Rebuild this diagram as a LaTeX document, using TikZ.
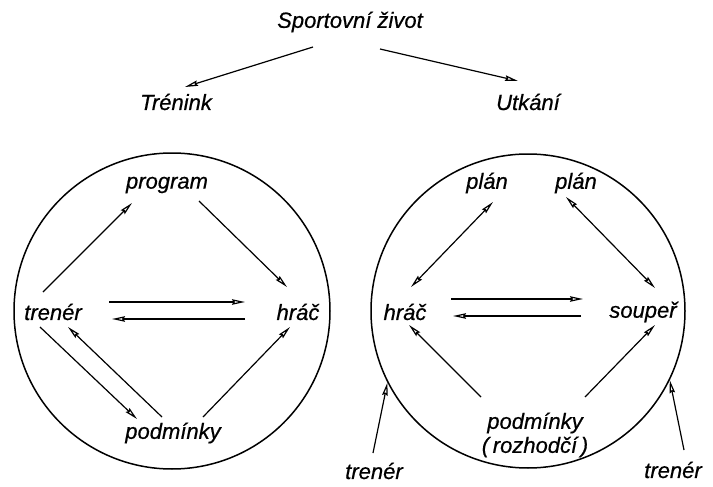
\documentclass[tikz,border=0pt]{standalone}
\usepackage{fontspec}
\setmainfont{Liberation Sans}[ItalicFeatures={FakeBold=0.6}]
\usetikzlibrary{arrows.meta,calc}
\begin{document}
\begin{tikzpicture}[x=1pt,y=-1pt,
  lbl/.style={inner sep=1pt,font=\fontsize{22}{26}\selectfont\itshape},
  ring/.style={circle,draw,line width=1.5pt,minimum size=#1,inner sep=0pt},
  tip/.tip={Stealth[open,length=13pt,width=5.5pt,inset=1.5pt]},
  arr/.style={line width=1.2pt,-tip},
  darr/.style={line width=1.2pt,tip-tip}]
\useasboundingbox (0,0) rectangle (713,487);
% top
\node[lbl] (sz) at (350,22) {Sportovní život};
\node[lbl] (tr) at (176,102) {Trénink};
\node[lbl] (ut) at (528,102) {Utkání};
\draw[arr] ([shift={(-37,25)}]sz.center) -- ([shift={(9,-15)}]tr.center);
\draw[arr] ([shift={(30,27)}]sz.center) -- ([shift={(-10,-21)}]ut.center);
% circles
\node[ring=316pt] (cL) at (172,311) {};
\node[ring=314pt] (cR) at (528,311) {};
% left circle
\node[lbl] (tL) at (53,312) {trenér};
\node[lbl] (pL) at (167,185) {program};
\node[lbl] (hL) at (298,312) {hráč};
\node[lbl] (dL) at (173,433) {podmínky};
\draw[arr] ([shift={(-10,-20)}]tL.center) -- ([shift={(-35,18)}]pL.center);
\draw[arr] ([shift={(32,16)}]pL.center) -- ([shift={(-11,-25)}]hL.center);
\draw[arr] ([shift={(56,-10)}]tL.center) -- ([shift={(-53,-10)}]hL.center);
\draw[arr] ([shift={(-53,7)}]hL.center) -- ([shift={(59,7)}]tL.center);
\draw[arr] ([shift={(-13,15)}]tL.center) -- ([shift={(-36,-14)}]dL.center);
\draw[arr] ([shift={(-11,-16)}]dL.center) -- ([shift={(15,15)}]tL.center);
\draw[arr] ([shift={(30,-16)}]dL.center) -- ([shift={(-8,15)}]hL.center);
% right circle
\node[lbl] (p1) at (487,183) {plán};
\node[lbl] (p2) at (576,183) {plán};
\node[lbl] (hR) at (405,312) {hráč};
\node[lbl] (sR) at (643,312) {soupeř};
\node[lbl] (dR) at (535,423) {podmínky};
\node[lbl] (rR) at (535,447) {(\,rozhodčí\,)};
\node[lbl] (tR1) at (374,471) {trenér};
\node[lbl] (tR2) at (673,470) {trenér};
\draw[darr] ([shift={(6,-25)}]hR.center) -- ([shift={(6,19)}]p1.center);
\draw[darr] ([shift={(-10,14)}]p2.center) -- ([shift={(12,-24)}]sR.center);
\draw[arr] ([shift={(46,-13)}]hR.center) -- ([shift={(-60,-13)}]sR.center);
\draw[arr] ([shift={(-62,4)}]sR.center) -- ([shift={(48,4)}]hR.center);
\draw[arr] ([shift={(-54,-26)}]dR.center) -- ([shift={(4,13)}]hR.center);
\draw[arr] ([shift={(50,-26)}]dR.center) -- ([shift={(12,13)}]sR.center);
\draw[arr] ([shift={(-1,-18)}]tR1.center) -- (cR.207);
\draw[arr] ([shift={(11,-20)}]tR2.center) -- (cR.334);
\end{tikzpicture}
\end{document}
